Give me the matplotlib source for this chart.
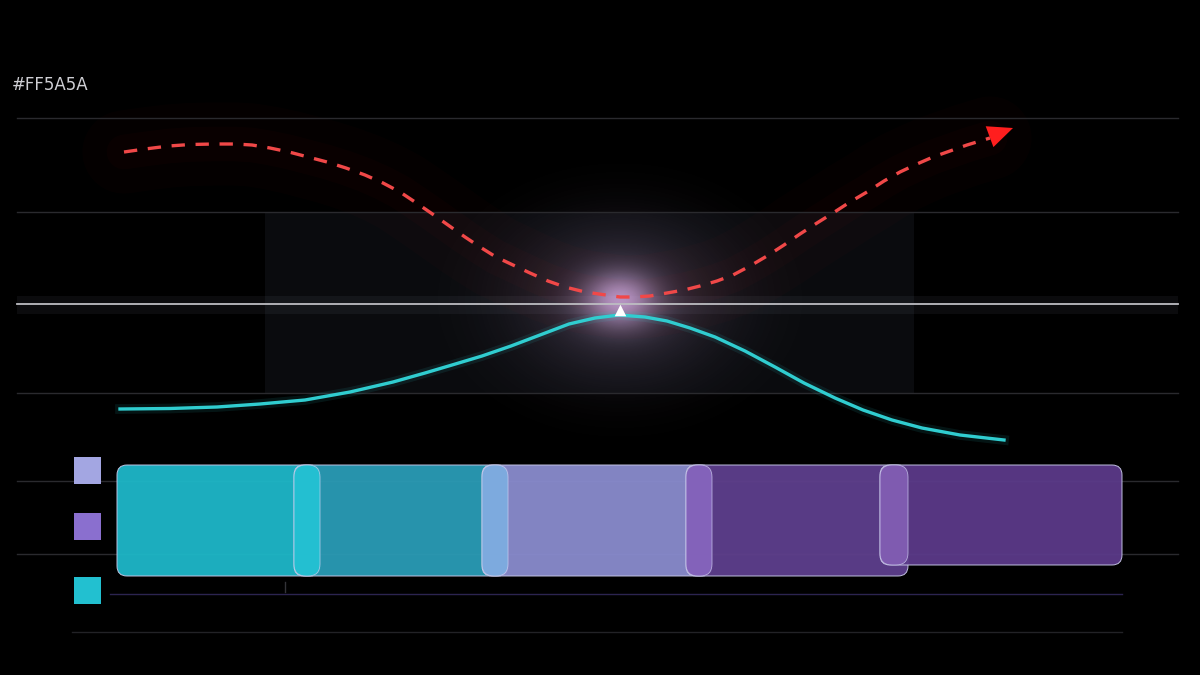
import numpy as np
import matplotlib
matplotlib.use("Agg")
import matplotlib.pyplot as plt
from matplotlib.patches import FancyBboxPatch, Rectangle

# values (pixel-like units, y grows downward)
red_x = [124, 145, 169, 190, 214, 235, 252, 270, 289, 308, 327, 346, 365, 383, 400, 415,
         431, 448, 465, 480, 496, 513, 530, 548, 565, 585, 606, 620, 633, 650, 667, 684,
         700, 717, 733, 750, 767, 784, 800, 817, 833, 850, 867, 884, 900, 917, 933, 950,
         967, 990]
red_y = [152, 149, 146, 144.5, 144, 144, 145, 148, 152, 157, 162, 168, 175, 183, 192, 202,
         213, 225, 237, 247, 257, 265, 273, 281, 287, 292, 295, 297, 297, 296, 293, 290,
         286, 281, 275, 266, 256, 245, 234, 223, 213, 202, 192, 181, 172, 164, 157, 151,
         145, 138]
cyan_x = [120, 170, 217, 260, 305, 350, 393, 425, 452, 482, 511, 540, 569, 595, 619, 645,
          667, 690, 715, 745, 775, 804, 835, 863, 892, 922, 960, 1004]
cyan_y = [409, 408.5, 407, 404, 400, 392, 382, 373, 365, 356, 346, 335, 324, 318, 315, 317,
          321, 328, 337, 351, 367, 383, 398, 410, 420, 428, 435, 440]
arrow_tip = (1013, 128)

grid_y = [118, 212, 393, 481, 554]
mid_line_y = 304
peak_x = 620

box_start = [117, 294, 482, 686, 880]
box_end = [320, 508, 712, 908, 1122]
box_top = [465, 465, 465, 465, 465]
box_bottom = [576, 576, 576, 576, 565]
box_colors = ["#1eb8c9", "#2a9cb6", "#8a8cce", "#5e3f8d", "#5b3a89"]
overlap_colors = ["#22c6d6", "#7cb0e2", "#8a68c2", "#8662b8"]

legend_y = [457, 513, 577]
legend_colors = ["#a3a6e2", "#8a6fcf", "#22c0d0"]

fig = plt.figure(figsize=(12, 6.75), dpi=100, facecolor="black")
ax = fig.add_axes([0, 0, 1, 1])
ax.set_facecolor("black")
ax.set_xlim(0, 1200)
ax.set_ylim(675, 0)
ax.axis("off")

# faint band behind the curves
ax.add_patch(Rectangle((265, 212), 914 - 265, 393 - 212, color="#8898b8", alpha=0.08, lw=0, zorder=1))
ax.add_patch(Rectangle((17, 296), 1161, 18, color="#a0a8c0", alpha=0.07, lw=0, zorder=1))

# glow round the peak
gx, gy = np.meshgrid(np.linspace(-1, 1, 300), np.linspace(-1, 1, 300))
r = np.sqrt(gx**2 + gy**2)
glow = np.zeros((300, 300, 4))
glow[..., 0] = 0.85
glow[..., 1] = 0.72
glow[..., 2] = 0.95
glow[..., 3] = np.clip(np.exp(-(r / 0.18) ** 2) * 0.6 + np.exp(-(r / 0.5) ** 2) * 0.22, 0, 1)
ax.imshow(glow, extent=(peak_x - 200, peak_x + 200, 300 + 150, 300 - 150), zorder=2, interpolation="bilinear")

# reddish haze under the dashed line
ax.plot(red_x, red_y, color="#ff2020", lw=60, alpha=0.02, solid_capstyle="round", zorder=2)
ax.plot(red_x, red_y, color="#ff2020", lw=25, alpha=0.025, solid_capstyle="round", zorder=2)

# grid lines
for y in grid_y:
    ax.plot([17, 1178], [y, y], color="#2a2a2e", lw=1, zorder=3)
ax.plot([17, 1178], [mid_line_y, mid_line_y], color="#bdbdc2", lw=1.3, zorder=4)
ax.plot([110, 1122], [594, 594], color="#2c2450", lw=1, zorder=3)
ax.plot([72, 1122], [632, 632], color="#222226", lw=1, zorder=3)
ax.plot([285, 285], [582, 592], color="#333338", lw=1, zorder=3)

# curves
ax.plot(red_x, red_y, color="#f04848", lw=2.4, dashes=(4, 3.2), zorder=5)
ax.annotate("", xy=arrow_tip, xytext=(red_x[-2], red_y[-2]),
            arrowprops=dict(arrowstyle="-|>,head_length=1.8,head_width=0.8", color="#ff1e1e", lw=0,
                            shrinkA=0, shrinkB=0),
            zorder=6)
ax.plot(cyan_x, cyan_y, color="#2ec8cc", lw=7, alpha=0.1, zorder=5, solid_joinstyle="round")
ax.plot(cyan_x, cyan_y, color="#30cdd0", lw=2.4, zorder=6, solid_joinstyle="round")
ax.scatter([peak_x], [310], marker="^", s=70, color="white", zorder=7, lw=0)

ax.text(12, 85, "#FF5A5A", color="#cfcfd4", fontsize=12, va="center", ha="left", zorder=8)

# rounded bars
for i in range(len(box_start)):
    w = box_end[i] - box_start[i]
    h = box_bottom[i] - box_top[i]
    ax.add_patch(FancyBboxPatch((box_start[i] + 10, box_top[i] + 10), w - 20, h - 20,
                                boxstyle="round,pad=10", fc=box_colors[i], ec="#c8c8e8",
                                lw=0.7, alpha=0.95, zorder=9 + i))
for i in range(len(overlap_colors)):
    x0 = box_start[i + 1]
    x1 = box_end[i]
    h = min(box_bottom[i], box_bottom[i + 1]) - box_top[i]
    ax.add_patch(FancyBboxPatch((x0 + 12, box_top[i] + 12), x1 - x0 - 24, h - 24,
                                boxstyle="round,pad=12", fc=overlap_colors[i], ec="#d0d0f0",
                                lw=0.5, alpha=0.85, zorder=20))

# legend squares
for y, c in zip(legend_y, legend_colors):
    ax.add_patch(Rectangle((74, y), 27, 27, fc=c, ec="none", zorder=9))

fig.savefig("out.png", dpi=100, facecolor="black")
